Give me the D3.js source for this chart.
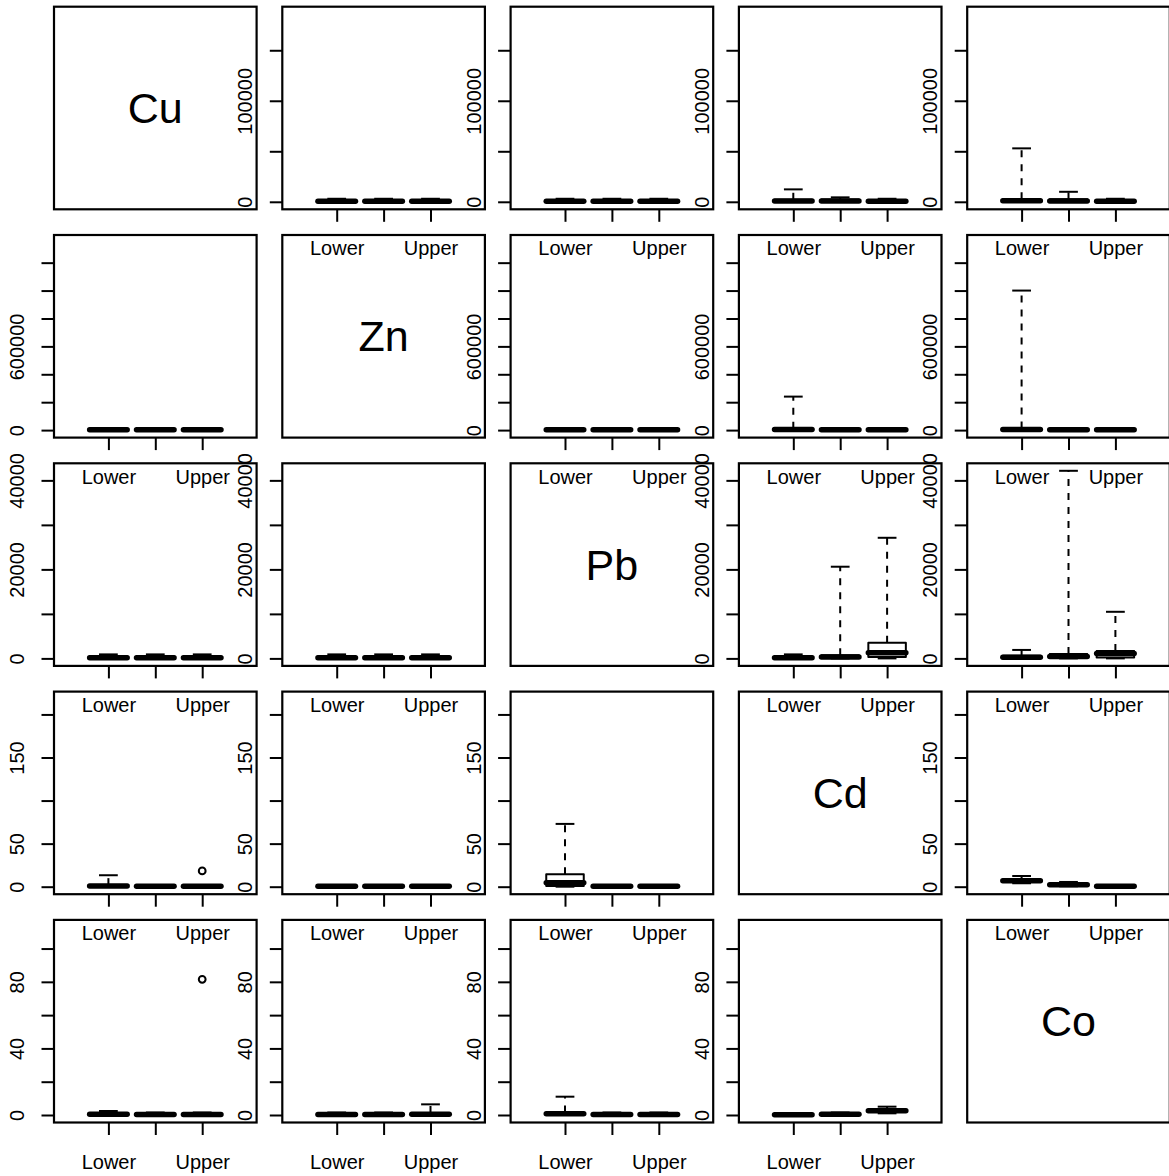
<!DOCTYPE html>
<html lang="en">
<head>
    <meta charset="UTF-8">
    <title>Boxplot matrix</title>
    <script src="https://d3js.org/d3.v7.min.js"></script>
    <style>
        body { margin: 0; background: #fff; }
        svg { display: block; }
    </style>
</head>
<body>
    <div id="chart"></div>

    <script>
        const elements = ["Cu", "Zn", "Pb", "Cd", "Co"];
        const groupLabels = ["Lower", "", "Upper"];

        // y range of each row (data max, min is 0) and its ticks
        const rowMax = [185700, 1344500, 42150, 217.8, 112.7];
        const rowTicks = [
            [0, 50000, 100000, 150000],
            [0, 200000, 400000, 600000, 800000, 1000000, 1200000],
            [0, 10000, 20000, 30000, 40000],
            [0, 50, 100, 150, 200],
            [0, 20, 40, 60, 80, 100]
        ];
        const rowTickLabels = [
            ["0", "", "100000", ""],
            ["0", "", "", "600000", "", "", ""],
            ["0", "", "20000", "", "40000"],
            ["0", "50", "", "150", ""],
            ["0", "", "40", "", "80", ""]
        ];

        // [low whisker, q1, median, q3, high whisker] for Lower / Middle / Upper, one entry per column
        const cuStats = [
            null,
            [[0, 200, 600, 1500, 3000], [0, 200, 600, 1500, 3000], [0, 200, 600, 1500, 3000]],
            [[0, 200, 600, 1500, 3000], [0, 200, 600, 1500, 3000], [0, 200, 600, 1500, 3000]],
            [[0, 300, 800, 2000, 12300], [0, 300, 900, 2200, 4400], [0, 200, 600, 1500, 3000]],
            [[0, 300, 1000, 2500, 52900], [0, 300, 900, 2400, 9900], [0, 200, 600, 1500, 3000]]
        ];
        const znStats = [
            [[0, 1000, 3000, 8000, 15000], [0, 1000, 3000, 8000, 15000], [0, 1000, 3000, 8000, 15000]],
            null,
            [[0, 1000, 3000, 8000, 15000], [0, 1000, 3000, 8000, 15000], [0, 1000, 3000, 8000, 15000]],
            [[0, 1500, 4000, 9000, 240000], [0, 1000, 3000, 8000, 15000], [0, 1000, 3000, 8000, 15000]],
            [[0, 2000, 5000, 12000, 1000000], [0, 1000, 3000, 8000, 15000], [0, 1000, 3000, 8000, 15000]]
        ];
        const pbStats = [
            [[0, 50, 150, 400, 900], [0, 50, 150, 400, 900], [0, 50, 150, 400, 900]],
            [[0, 50, 150, 400, 900], [0, 50, 150, 400, 900], [0, 50, 150, 400, 900]],
            null,
            [[0, 50, 150, 400, 900], [0, 100, 300, 700, 20600], [0, 300, 1250, 3500, 27100]],
            [[0, 80, 250, 600, 1900], [0, 150, 450, 1000, 42150], [0, 200, 1100, 1650, 10470]]
        ];
        const cdStats = [
            [[0, 0.3, 0.8, 1.8, 13.3], [0, 0.2, 0.5, 1, 2], [0, 0.2, 0.5, 1, 2]],
            [[0, 0.2, 0.5, 1, 2], [0, 0.2, 0.5, 1, 2], [0, 0.2, 0.5, 1, 2]],
            [[0, 0.8, 4.7, 14.4, 72.9], [0, 0.2, 0.5, 1, 2], [0, 0.2, 0.5, 1, 2]],
            null,
            [[4, 5.5, 7, 8.5, 12.4], [0.5, 1.5, 2.3, 3, 5.5], [0, 0.2, 0.5, 1, 1.5]]
        ];
        const coStats = [
            [[0, 0.2, 0.5, 1, 2.4], [0, 0.1, 0.3, 0.8, 1.5], [0, 0.1, 0.3, 0.8, 1.5]],
            [[0, 0.1, 0.3, 0.8, 1.5], [0, 0.1, 0.3, 0.8, 1.5], [0, 0.2, 0.5, 1.2, 6.4]],
            [[0, 0.3, 0.8, 1.5, 11], [0, 0.1, 0.3, 0.8, 1.5], [0, 0.1, 0.3, 0.8, 1.5]],
            [[0, 0.1, 0.2, 0.5, 1], [0, 0.2, 0.5, 1, 1.5], [1, 1.8, 2.6, 3.3, 5]],
            null
        ];
        const allStats = [cuStats, znStats, pbStats, cdStats, coStats];

        const outliers = [
            { row: 3, col: 0, group: 2, value: 18.3 },
            { row: 4, col: 0, group: 2, value: 81.5 }
        ];

        const width = 1169;
        const height = 1176;
        const left0 = 54, top0 = 6.7, step = 228.3, size = 202.6;
        const font = "'Liberation Sans', Arial, Helvetica, sans-serif";
        const lw = 2;

        const svg = d3.select("#chart").append("svg")
            .attr("width", width)
            .attr("height", height)
            .attr("font-family", font);

        // boxplot x axis: groups at 1..3, xlim 0..4 plus 4%
        const x = d3.scaleLinear().domain([-0.16, 4.16]).range([0, size]);
        const boxHalf = x(1.4) - x(1);
        const capHalf = boxHalf / 2;

        elements.forEach((rowName, r) => {
            const y = d3.scaleLinear()
                .domain([-0.04 * rowMax[r], 1.04 * rowMax[r]])
                .range([size, 0]);

            elements.forEach((colName, c) => {
                const g = svg.append("g")
                    .attr("transform", "translate(" + (left0 + c * step) + "," + (top0 + r * step) + ")");

                if (r === c) {
                    g.append("text")
                        .attr("x", size / 2)
                        .attr("y", size / 2)
                        .attr("dy", "0.35em")
                        .attr("text-anchor", "middle")
                        .attr("font-size", 43)
                        .text(rowName);
                } else {
                    // y axis
                    const yAxis = g.append("g")
                        .call(d3.axisLeft(y)
                            .tickValues(rowTicks[r])
                            .tickFormat((d, i) => rowTickLabels[r][i])
                            .tickSize(12.5));
                    yAxis.select(".domain").remove();
                    yAxis.selectAll("line").attr("stroke", "#000").attr("stroke-width", lw);
                    yAxis.selectAll("text")
                        .attr("font-size", 20)
                        .attr("font-family", font)
                        .attr("fill", "#000")
                        .attr("x", 0)
                        .attr("y", -30)
                        .attr("dy", null)
                        .attr("text-anchor", "middle")
                        .attr("transform", "rotate(-90)");

                    // x axis
                    const xAxis = g.append("g")
                        .attr("transform", "translate(0," + size + ")")
                        .call(d3.axisBottom(x)
                            .tickValues([1, 2, 3])
                            .tickFormat((d, i) => groupLabels[i])
                            .tickSize(12.5));
                    xAxis.select(".domain").remove();
                    xAxis.selectAll("line").attr("stroke", "#000").attr("stroke-width", lw);
                    xAxis.selectAll("text")
                        .attr("font-size", 20)
                        .attr("font-family", font)
                        .attr("fill", "#000")
                        .attr("y", 46)
                        .attr("dy", null);

                    // boxes
                    const stats = allStats[r][c];
                    stats.forEach((s, i) => {
                        const cx = x(i + 1);
                        const box = g.append("g");
                        // whiskers
                        box.append("line")
                            .attr("x1", cx).attr("x2", cx)
                            .attr("y1", y(s[0])).attr("y2", y(s[1]))
                            .attr("stroke", "#000").attr("stroke-width", lw)
                            .attr("stroke-dasharray", "7,7");
                        box.append("line")
                            .attr("x1", cx).attr("x2", cx)
                            .attr("y1", y(s[3])).attr("y2", y(s[4]))
                            .attr("stroke", "#000").attr("stroke-width", lw)
                            .attr("stroke-dasharray", "7,7");
                        // staples
                        [s[0], s[4]].forEach(v => {
                            box.append("line")
                                .attr("x1", cx - capHalf).attr("x2", cx + capHalf)
                                .attr("y1", y(v)).attr("y2", y(v))
                                .attr("stroke", "#000").attr("stroke-width", lw);
                        });
                        box.append("rect")
                            .attr("x", cx - boxHalf)
                            .attr("y", y(s[3]))
                            .attr("width", boxHalf * 2)
                            .attr("height", y(s[1]) - y(s[3]))
                            .attr("fill", "#fff")
                            .attr("stroke", "#000")
                            .attr("stroke-width", lw)
                            .attr("stroke-linejoin", "round");
                        box.append("line")
                            .attr("x1", cx - boxHalf).attr("x2", cx + boxHalf)
                            .attr("y1", y(s[2])).attr("y2", y(s[2]))
                            .attr("stroke", "#000").attr("stroke-width", 5.5)
                            .attr("stroke-linecap", "round");
                    });

                    outliers.filter(o => o.row === r && o.col === c).forEach(o => {
                        g.append("circle")
                            .attr("cx", x(o.group + 1))
                            .attr("cy", y(o.value))
                            .attr("r", 3.4)
                            .attr("fill", "none")
                            .attr("stroke", "#000")
                            .attr("stroke-width", lw);
                    });
                }

                // panel frame
                g.append("rect")
                    .attr("width", size)
                    .attr("height", size)
                    .attr("fill", "none")
                    .attr("stroke", "#000")
                    .attr("stroke-width", 2.2);
            });
        });
    </script>
</body>
</html>
